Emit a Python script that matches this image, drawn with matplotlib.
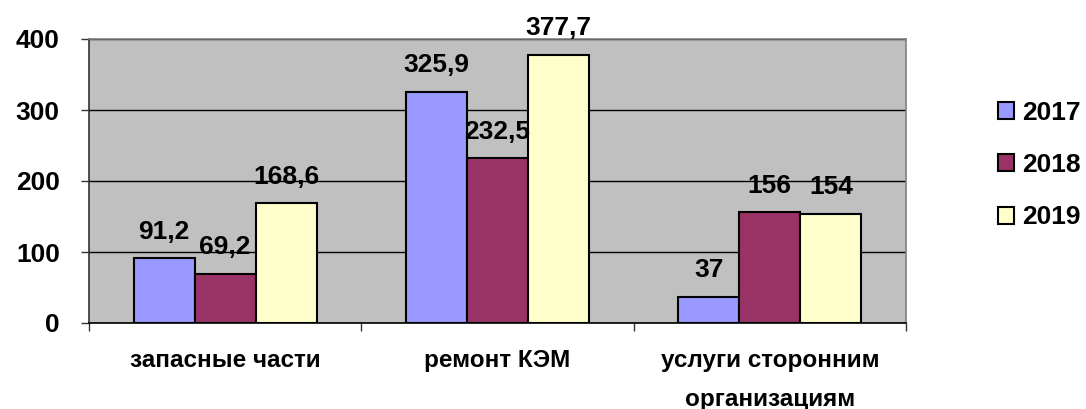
import numpy as np
import matplotlib
matplotlib.use('Agg')
import matplotlib.pyplot as plt
from matplotlib.patches import Patch

plt.rcParams['font.family'] = ['Liberation Sans', 'DejaVu Sans']
plt.rcParams['font.weight'] = 'bold'

categories = ['запасные части', 'ремонт КЭМ', 'услуги сторонним\nорганизациям']
years = ['2017', '2018', '2019']
v2017 = [91.2, 325.9, 37]
v2018 = [69.2, 232.5, 156]
v2019 = [168.6, 377.7, 154]
colors = ['#9999FF', '#993366', '#FFFFCC']

fig = plt.figure(figsize=(10.86, 4.09), dpi=100)
ax = fig.add_axes([89/1086, 1 - 323/409, (906 - 89)/1086, (323 - 39)/409])
ax.set_facecolor('#C0C0C0')

x = np.arange(len(categories))
w = 0.224
series = [v2017, v2018, v2019]
for i, vals in enumerate(series):
    xs = x + (i - 1) * w
    ax.bar(xs, vals, w, color=colors[i], edgecolor='black', linewidth=1.5, zorder=3)
    for xi, v in zip(xs, vals):
        ax.annotate(f'{v:g}'.replace('.', ','), (xi, v), xytext=(0, 19),
                    textcoords='offset points', ha='center', va='center',
                    fontsize=19, fontweight='bold', zorder=4)

ax.set_xlim(-0.5, 2.5)
ax.set_ylim(0, 400)
ax.set_yticks([0, 100, 200, 300, 400])
ax.yaxis.grid(True, color='black', linewidth=1, zorder=0)
ax.set_axisbelow(True)
ax.tick_params(axis='y', length=6, width=1, pad=15, labelsize=19, color='#333333')
for lab in ax.get_yticklabels():
    lab.set_fontweight('bold')

ax.set_xticks(x)
ax.set_xticklabels(categories, fontsize=17.5, fontweight='bold', linespacing=1.85)
ax.tick_params(axis='x', length=0, pad=19)
ax.set_xticks([-0.5, 0.5, 1.5, 2.5], minor=True)
ax.tick_params(axis='x', which='minor', length=6, width=1, color='#333333')

ax.spines['left'].set_color('#333333')
ax.spines['bottom'].set_color('black')
ax.spines['top'].set_color('#808080')
ax.spines['right'].set_color('#808080')
for s in ax.spines.values():
    s.set_linewidth(1.2)

handles = [Patch(facecolor=c, edgecolor='black', linewidth=1.5) for c in colors]
fig.legend(handles, years, loc='center left', bbox_to_anchor=(998/1086, 1 - 165/409),
           frameon=False, handlelength=0.6, handleheight=0.6, borderpad=0,
           borderaxespad=0, handletextpad=0.3, labelspacing=1.08,
           prop={'weight': 'bold', 'size': 19})

fig.savefig('out.png', dpi=100)
